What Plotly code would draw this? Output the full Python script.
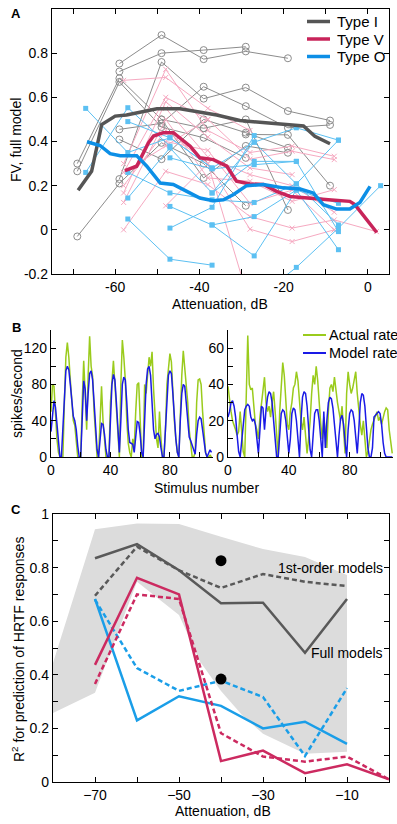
import plotly.graph_objects as go

W, H = 397, 824
def px(x): return x / W
def py(y): return 1 - y / H

# ---------------- Panel A data ----------------
typeI_thin = [
    ([-59, -49, -39, -29, -19], [0.753, 0.882, 0.773, 0.808, 0.777]),
    ([-59, -49, -39, -29], [0.717, 0.80, 0.814, 0.829]),
    ([-69, -59, -49, -39], [0.30, 0.686, 0.50, 0.46]),
    ([-69, -59, -49, -39, -29], [0.265, 0.67, 0.465, 0.417, 0.326]),
    ([-69, -59, -49, -39, -29], [-0.03, 0.21, 0.394, 0.30, 0.109]),
    ([-59, -49, -39, -29, -19, -9], [0.23, 0.76, 0.594, 0.644, 0.538, 0.495]),
    ([-59, -49, -39, -29, -19, -9], [0.455, 0.482, 0.648, 0.56, 0.462, 0.475]),
    ([-59, -49, -39, -29, -19], [0.409, 0.32, 0.50, 0.44, 0.371]),
    ([-49, -39, -29, -19], [0.50, 0.235, 0.38, 0.349]),
    ([-39, -29, -19], [0.46, 0.50, 0.09]),
    ([-29, -19, -9], [0.432, 0.43, 0.20]),
]
typeV_thin = [
    ([-58, -48, -38, -28], [0.677, 0.69, 0.55, 0.45]),
    ([-58, -48, -38, -28, -18, -8], [0.30, 0.727, 0.45, 0.35, 0.379, 0.333]),
    ([-58, -48, -38, -28, -18, -8], [0.26, 0.60, 0.50, 0.32, 0.356, 0.318]),
    ([-58, -48, -38, -28, -18], [0.167, 0.58, 0.42, 0.28, 0.25]),
    ([-58, -48, -38, -28, -18, -8], [0.124, 0.50, 0.235, 0.22, 0.129, 0.182]),
    ([-58, -48, -38, -28, -18, -8, 2], [0.0, 0.265, 0.205, 0.06, 0.008, 0.045, -0.008]),
    ([-48, -38, -28, -18, -8], [0.109, 0.30, 0.003, -0.053, 0.0]),
    ([-58, -48, -38, -30], [0.20, 0.45, 0.30, -0.21]),
    ([-48, -38, -28, -18, -8], [0.55, 0.33, 0.25, 0.20, 0.08]),
    ([-48, -38, -28, -18, -8], [0.40, 0.36, 0.12, 0.18, 0.0]),
    ([-58, -48, -38], [0.26, 0.38, 0.50]),
]
typeO_thin = [
    ([-67, -57, -47, -37], [0.55, 0.35, 0.417, 0.28]),
    ([-67, -57, -47], [0.26, 0.553, 0.379]),
    ([-57, -47, -37, -27, -17, -7], [0.49, 0.417, 0.28, 0.397, 0.462, 0.406]),
    ([-57, -47, -37, -27, -17], [0.144, 0.371, 0.167, 0.31, 0.31]),
    ([-57, -47, -37], [0.049, -0.133, -0.16]),
    ([-47, -37, -27], [0.008, 0.102, 0.427]),
    ([-37, -27, -17, -7], [0.022, -0.118, 0.18, 0.12]),
    ([-21, -17, -7, 3], [-0.23, -0.17, 0.008, 0.20]),
    ([-47, -37, -27, -17, -7], [0.326, 0.276, 0.295, 0.31, -0.008]),
    ([-57, -47, -37, -27, -17, -7], [0.26, 0.167, 0.136, 0.124, 0.208, 0.022]),
    ([-47, -37, -27, -17, -7], [0.106, 0.022, 0.06, 0.18, -0.09]),
    ([-37, -27, -17, -7], [0.167, 0.397, 0.208, 0.406]),
]
typeI_mean_x = [-68.8, -65.6, -63.2, -60, -57.3, -50.1, -44.6, -35.9, -30.4, -20.2, -15.3, -12.6, -9]
typeI_mean_y = [0.179, 0.265, 0.477, 0.515, 0.52, 0.548, 0.548, 0.52, 0.495, 0.477, 0.47, 0.424, 0.39]
typeV_mean_x = [-57.7, -54.9, -52.1, -50.9, -48.6, -46.2, -42.2, -39.9, -36.7, -33.5, -31.2, -28, -24.8, -21.7, -18.5, -13, -9.4, -4.3, -3.1, 2.1]
typeV_mean_y = [0.268, 0.288, 0.394, 0.425, 0.44, 0.44, 0.379, 0.326, 0.318, 0.288, 0.22, 0.208, 0.205, 0.174, 0.151, 0.144, 0.136, 0.129, 0.114, -0.012]
typeO_mean_x = [-66.7, -63.6, -61.2, -58.8, -54.9, -52.5, -49.3, -46.2, -43, -39.9, -36.7, -34.3, -32, -28.8, -24.8, -20.1, -16.1, -13, -10.6, -7.4, -4.3, -1.9, 0.5]
typeO_mean_y = [0.399, 0.382, 0.345, 0.336, 0.336, 0.288, 0.212, 0.205, 0.174, 0.144, 0.132, 0.136, 0.159, 0.2, 0.205, 0.19, 0.185, 0.167, 0.114, 0.094, 0.094, 0.124, 0.197]

a_xticks = [-70, -60, -50, -40, -30, -20, -10, 0]
a_xlabels = [" ", "-60", " ", "-40", " ", "-20", " ", "0"]
a_yticks = [-0.2, 0, 0.2, 0.4, 0.6, 0.8]
a_ylabels = ["-0.2", "0", "0.2", "0.4", "0.6", "0.8"]

# ---------------- Panel B data ----------------
left_actual = [50, 80, 78, 40, 20, 5, 0, 0, 0, 60, 110, 126, 110, 85, 60, 40, 35, 20, 0, 0,
               0, 60, 106, 70, 30, 90, 133, 100, 89, 50, 20, 0, 0, 50, 78, 40, 15, 0, 0, 0,
               60, 90, 106, 80, 50, 20, 0, 80, 129, 110, 85, 40, 15, 5, 0, 20, 10, 50, 80, 82,
               30, 0, 0, 80, 70, 90, 110, 100, 116, 75, 40, 20, 10, 50, 20, 0, 0, 30, 80, 100,
               114, 105, 70, 40, 20, 5, 0, 60, 90, 117, 100, 80, 60, 30, 10, 0, 0, 5, 60, 85,
               86, 80, 50, 20, 5, 0, 0, 2, 0]
left_model = [28, 45, 62, 55, 35, 12, 0, 0, 30, 70, 95, 100, 96, 80, 60, 45, 40, 30, 12, 0,
              0, 40, 84, 75, 40, 70, 92, 95, 85, 60, 30, 8, 0, 20, 37, 36, 25, 8, 0, 0,
              40, 80, 91, 85, 60, 30, 5, 40, 80, 88, 85, 60, 30, 16, 15, 14, 5, 20, 39, 38,
              25, 5, 0, 40, 80, 97, 100, 90, 60, 30, 20, 25, 26, 22, 10, 0, 0, 30, 70, 90,
              95, 92, 70, 40, 20, 5, 0, 40, 70, 80, 78, 60, 35, 22, 18, 13, 8, 3, 25, 40,
              44, 42, 30, 15, 5, 0, 4, 8, 5]
right_actual = [39, 30, 25, 20, 18, 15, 12, 14, 25, 15, 3, 0, 30, 67, 40, 37, 38, 25, 18, 15,
                10, 22, 30, 35, 44, 30, 25, 28, 22, 30, 36, 25, 10, 0, 25, 40, 52, 45, 30, 18,
                15, 25, 30, 38, 40, 47, 42, 30, 20, 15, 22, 12, 2, 10, 20, 35, 45, 40, 50, 42,
                28, 18, 10, 22, 15, 5, 25, 38, 40, 36, 44, 35, 30, 25, 20, 28, 12, 2, 35, 47,
                40, 35, 38, 42, 47, 35, 25, 18, 12, 20, 10, 0, 3, 10, 15, 18, 20, 22, 25, 20,
                22, 18, 22, 25, 27, 26, 15, 8, 2]
right_model = [22, 25, 30, 31, 28, 22, 12, 3, 0, 10, 20, 26, 28, 29, 28, 22, 20, 21, 18, 10,
               2, 15, 28, 27, 15, 26, 33, 36, 35, 30, 20, 8, 0, 0, 12, 24, 26, 25, 20, 10,
               2, 10, 24, 27, 26, 20, 8, 0, 20, 33, 36, 35, 28, 15, 4, 0, 12, 24, 26, 26,
               20, 8, 0, 25, 5, 20, 30, 33, 32, 27, 18, 6, 0, 12, 21, 23, 18, 8, 0, 15,
               24, 26, 25, 20, 10, 2, 15, 30, 35, 34, 28, 15, 5, 0, 0, 5, 22, 23, 24, 25,
               24, 18, 8, 2, 0, 0, 0, 0, 0]
stimulus = list(range(len(left_actual)))
b_xticks = [0, 20, 40, 60, 80, 100]
b_xlabels = ["0", " ", "40", " ", "80", " "]
bl_yticks = [0, 20, 40, 60, 80, 100, 120, 140]
bl_ylabels = ["0", " ", "40", " ", "80", " ", "120", " "]
br_yticks = [0, 10, 20, 30, 40, 50, 60, 70]
br_ylabels = ["0", " ", "20", " ", "40", " ", "60", " "]

# ---------------- Panel C data ----------------
atten_c = [-70, -60, -50, -40, -30, -20, -10]
typeI_full = [0.835, 0.888, 0.79, 0.667, 0.669, 0.482, 0.683]
typeI_first = [0.695, 0.878, 0.79, 0.724, 0.776, 0.747, 0.731]
atten_c_v = [-70, -60, -50, -40, -30, -20, -10, 0]
typeV_full = [0.437, 0.762, 0.70, 0.078, 0.117, 0.033, 0.066, 0.01]
typeV_first = [0.366, 0.70, 0.683, 0.182, 0.095, 0.076, 0.095, 0.01]
typeO_full = [0.683, 0.23, 0.32, 0.284, 0.20, 0.225, 0.142]
typeO_first = [0.68, 0.425, 0.34, 0.378, 0.317, 0.097, 0.35]
band_upper_x = [-80, -70, -60, -50, -40, -30, -20, -10]
band_upper_y = [0.444, 0.943, 0.965, 0.963, 0.915, 0.869, 0.84, 0.772]
band_lower_x = [-10, -20, -30, -35, -40, -45, -50, -60, -70, -80]
band_lower_y = [0.113, 0.105, 0.18, 0.25, 0.34, 0.45, 0.623, 0.747, 0.333, 0.257]
dots_x = [-40, -40]
dots_y = [0.826, 0.384]
c_xticks = [-70, -60, -50, -40, -30, -20, -10]
c_xlabels = ["\u221270", " ", "\u221250", " ", "\u221230", " ", "\u221210"]
c_yticks = [0, 0.1, 0.2, 0.3, 0.4, 0.5, 0.6, 0.7, 0.8, 0.9, 1.0]
c_ylabels = ["0", " ", "0.2", " ", "0.4", " ", "0.6", " ", "0.8", " ", "1"]

# colours
GRAY_T, PINK_T, BLUE_T = "#8c8c8c", "#f6a9c1", "#5cc0f2"
GRAY, CRIMSON, BLUE = "#555555", "#c8245a", "#0d8fe6"
C_GRAY, C_PINK, C_BLUE = "#595959", "#cc2a60", "#1a9ee8"
GREEN, MBLUE = "#9acb1c", "#1a1ae6"

fig = go.Figure()

for xs, ys in typeI_thin:
    fig.add_trace(go.Scatter(x=xs, y=ys, mode="lines+markers", xaxis="x", yaxis="y",
                             line=dict(color=GRAY_T, width=1),
                             marker=dict(symbol="circle-open", size=7, color=GRAY_T, line=dict(width=1))))
for xs, ys in typeV_thin:
    fig.add_trace(go.Scatter(x=xs, y=ys, mode="lines+markers", xaxis="x", yaxis="y",
                             line=dict(color=PINK_T, width=1),
                             marker=dict(symbol="x-thin", size=5, color=PINK_T, line=dict(width=1, color=PINK_T))))
for xs, ys in typeO_thin:
    fig.add_trace(go.Scatter(x=xs, y=ys, mode="lines+markers", xaxis="x", yaxis="y",
                             line=dict(color=BLUE_T, width=1),
                             marker=dict(symbol="square", size=5, color=BLUE_T)))
for xs, ys, c in [(typeI_mean_x, typeI_mean_y, GRAY), (typeV_mean_x, typeV_mean_y, CRIMSON),
                  (typeO_mean_x, typeO_mean_y, BLUE)]:
    fig.add_trace(go.Scatter(x=xs, y=ys, mode="lines", xaxis="x", yaxis="y",
                             line=dict(color=c, width=3.5)))

fig.add_trace(go.Scatter(x=stimulus, y=left_actual, mode="lines", xaxis="x2", yaxis="y2",
                         line=dict(color=GREEN, width=1.5)))
fig.add_trace(go.Scatter(x=stimulus, y=left_model, mode="lines", xaxis="x2", yaxis="y2",
                         line=dict(color=MBLUE, width=1.5)))
fig.add_trace(go.Scatter(x=stimulus, y=right_actual, mode="lines", xaxis="x3", yaxis="y3",
                         line=dict(color=GREEN, width=1.5)))
fig.add_trace(go.Scatter(x=stimulus, y=right_model, mode="lines", xaxis="x3", yaxis="y3",
                         line=dict(color=MBLUE, width=1.5)))

fig.add_trace(go.Scatter(x=band_upper_x + band_lower_x, y=band_upper_y + band_lower_y,
                         mode="lines", fill="toself", fillcolor="#dcdcdc",
                         line=dict(width=0, color="#dcdcdc"), xaxis="x4", yaxis="y4"))
dash = "5px,3px"
fig.add_trace(go.Scatter(x=atten_c, y=typeI_first, mode="lines", xaxis="x4", yaxis="y4",
                         line=dict(color=C_GRAY, width=2.5, dash=dash)))
fig.add_trace(go.Scatter(x=atten_c, y=typeI_full, mode="lines", xaxis="x4", yaxis="y4",
                         line=dict(color=C_GRAY, width=2.5)))
fig.add_trace(go.Scatter(x=atten_c, y=typeO_first, mode="lines", xaxis="x4", yaxis="y4",
                         line=dict(color=C_BLUE, width=2.5, dash=dash)))
fig.add_trace(go.Scatter(x=atten_c, y=typeO_full, mode="lines", xaxis="x4", yaxis="y4",
                         line=dict(color=C_BLUE, width=2.5)))
fig.add_trace(go.Scatter(x=atten_c_v, y=typeV_first, mode="lines", xaxis="x4", yaxis="y4",
                         line=dict(color=C_PINK, width=2.5, dash=dash)))
fig.add_trace(go.Scatter(x=atten_c_v, y=typeV_full, mode="lines", xaxis="x4", yaxis="y4",
                         line=dict(color=C_PINK, width=2.5)))
fig.add_trace(go.Scatter(x=dots_x, y=dots_y, mode="markers", xaxis="x4", yaxis="y4",
                         marker=dict(color="black", size=11)))

FONT = "Liberation Sans, Arial, Helvetica, sans-serif"
TF = dict(family=FONT, size=14, color="black")

def box_axis(**kw):
    d = dict(showline=True, linecolor="black", linewidth=1.3, mirror="allticks",
             ticks="inside", ticklen=5, tickwidth=1.2, tickcolor="black",
             showgrid=False, zeroline=False, tickfont=TF, tickmode="array", automargin=False)
    d.update(kw)
    return d

def open_axis(**kw):
    d = dict(showline=True, linecolor="black", linewidth=1.3, mirror=False,
             ticks="inside", ticklen=5, tickwidth=1.2, tickcolor="black",
             showgrid=False, zeroline=False, tickfont=TF, tickmode="array", automargin=False)
    d.update(kw)
    return d

fig.update_layout(
    width=W, height=H, margin=dict(l=0, r=0, t=0, b=0, autoexpand=False),
    paper_bgcolor="white", plot_bgcolor="white", showlegend=False,
    font=dict(family=FONT, size=14, color="black"),
    xaxis=box_axis(domain=[px(52), px(389)], range=[-75, 5], anchor="y",
                   tickvals=a_xticks, ticktext=a_xlabels),
    yaxis=box_axis(domain=[py(274), py(9)], range=[-0.2, 1.0], anchor="x",
                   tickvals=a_yticks, ticktext=a_ylabels),
    xaxis2=open_axis(domain=[px(51), px(213)], range=[0, 109], anchor="y2",
                     tickvals=b_xticks, ticktext=b_xlabels),
    yaxis2=open_axis(domain=[py(457), py(330)], range=[0, 140], anchor="x2",
                     tickvals=bl_yticks, ticktext=bl_ylabels),
    xaxis3=open_axis(domain=[px(228), px(393)], range=[0, 108.5], anchor="y3",
                     tickvals=b_xticks, ticktext=b_xlabels),
    yaxis3=open_axis(domain=[py(457), py(330)], range=[0, 70], anchor="x3",
                     tickvals=br_yticks, ticktext=br_ylabels),
    xaxis4=box_axis(domain=[px(53), px(389)], range=[-80, 0], anchor="y4",
                    tickvals=c_xticks, ticktext=c_xlabels),
    yaxis4=box_axis(domain=[py(782), py(514)], range=[0, 1], anchor="x4",
                    tickvals=c_yticks, ticktext=c_ylabels),
)

ann = []
def text(x, y, s, size=14, angle=0, xanchor="center", bold=False):
    ann.append(dict(x=px(x), y=py(y), xref="paper", yref="paper", text=("<b>%s</b>" % s) if bold else s,
                    showarrow=False, textangle=angle, xanchor=xanchor, yanchor="middle",
                    font=dict(family=FONT, size=size, color="black")))

text(16, 13, "A", 13, bold=True)
text(16, 327, "B", 13, bold=True)
text(16, 510, "C", 13, bold=True)
text(16, 140, "FV, full model", 14, angle=-90)
text(220, 304, "Attenuation, dB", 14)
text(17, 394, "spikes/second", 14, angle=-90)
text(206, 488, "Stimulus number", 14)
text(18, 650, "R<sup>2</sup> for prediction of HRTF responses", 14, angle=-90)
text(223, 811, "Attenuation, dB", 14)
text(385, 568, "1st-order models", 14, xanchor="right")
text(385, 653, "Full models", 14, xanchor="right")

shapes = []
legA = [("Type I", GRAY, 21.5), ("Type V", CRIMSON, 39), ("Type O", BLUE, 56.5)]
for lab, c, yy in legA:
    shapes.append(dict(type="line", xref="paper", yref="paper", x0=px(307), x1=px(330),
                       y0=py(yy), y1=py(yy), line=dict(color=c, width=3.5)))
    text(335, yy, lab, 15, xanchor="left")
legB = [("Actual rate", GREEN, 335), ("Model rate", MBLUE, 353)]
for lab, c, yy in legB:
    shapes.append(dict(type="line", xref="paper", yref="paper", x0=px(303), x1=px(326),
                       y0=py(yy), y1=py(yy), line=dict(color=c, width=2)))
    text(327, yy, lab, 14.5, xanchor="left")

fig.update_layout(annotations=ann, shapes=shapes)
fig.write_html("out.html", config={"displayModeBar": False},
               post_script="document.body.style.margin='0';document.body.style.overflow='hidden';")
